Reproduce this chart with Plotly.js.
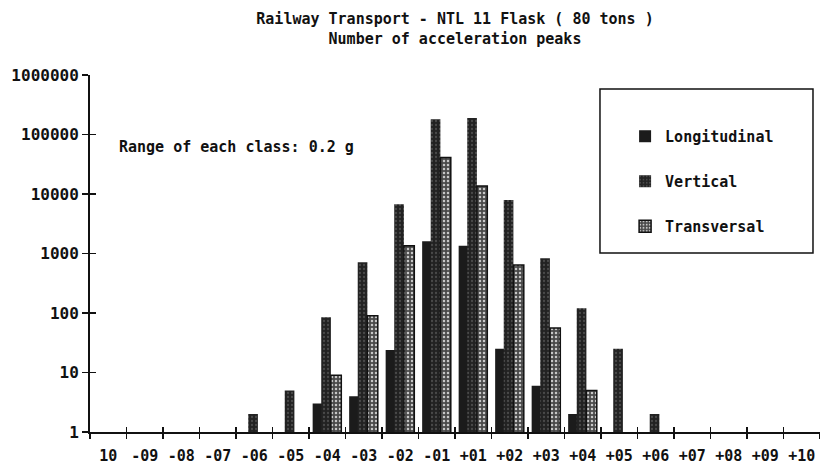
<!DOCTYPE html>
<html>
<head>
<meta charset="utf-8">
<script src="https://cdn.plot.ly/plotly-3.0.1.min.js"></script>
<style>html,body{margin:0;padding:0;background:#fff;}#chart{width:820px;height:465px;}</style>
</head>
<body>
<div id="chart"></div>
<script>
// Classes of acceleration (0.2 g each), as labelled on the x axis
const categories = ['10','-09','-08','-07','-06','-05','-04','-03','-02','-01','+01','+02','+03','+04','+05','+06','+07','+08','+09','+10'];
// Number of acceleration peaks per class (null = no bar)
const longitudinal = [null,null,null,null,null,null,3,4,24,1600,1350,25,6,2,null,null,null,null,null,null];
const vertical     = [null,null,null,null,2,5,85,710,6700,180000,190000,7900,830,120,25,2,null,null,null,null];
const transversal  = [null,null,null,null,null,null,9,90,1350,41000,13600,640,56,5,null,null,null,null,null,null];
const seriesNames = ['Longitudinal','Vertical','Transversal'];
const yTickVals = [1,10,100,1000,10000,100000,1000000];
const yTickText = ['1','10','100','1000','10000','100000','1000000'];

const FONT = 'DejaVu Sans Mono, Liberation Mono, monospace';
const INK = '#111';

const traces = [
  {type:'bar', name:seriesNames[0], x:categories, y:longitudinal, offset:-0.40, width:0.28,
   legendgroup:'a', marker:{color:'#1b1b1b', line:{width:0}}},
  {type:'bar', name:seriesNames[1], x:categories, y:vertical, offset:-0.165, width:0.265,
   legendgroup:'b', marker:{color:'#252525', line:{width:0},
   pattern:{shape:'.', fgcolor:'#4a4a4a', bgcolor:'#222', size:4, solidity:0.25}}},
  {type:'bar', name:seriesNames[2], x:categories, y:transversal, offset:0.10, width:0.285,
   legendgroup:'c', marker:{color:'#5a5a5a', line:{color:INK, width:1.5},
   pattern:{shape:'.', fgcolor:'#c8c8c8', bgcolor:'#4a4a4a', size:4, solidity:0.3}}},
  {type:'scatter', x:[], y:[], xaxis:'x2', yaxis:'y2', showlegend:false, hoverinfo:'skip'}
];

const layout = {
  width:820, height:465,
  margin:{l:90, r:0, t:75, b:33},
  paper_bgcolor:'#fff', plot_bgcolor:'#fff',
  barmode:'overlay',
  font:{family:FONT, color:INK, size:15},
  title:{text:'Railway Transport - NTL 11 Flask ( 80 tons )<br>Number of acceleration peaks',
         x:0.5, xref:'paper', xanchor:'center', y:0.948, yref:'container', yanchor:'top',
         font:{family:FONT, size:15, color:INK, weight:'bold'}},
  xaxis:{type:'category', categoryorder:'array', categoryarray:categories, range:[-0.5,19.5],
         tickson:'boundaries', ticks:'outside', ticklen:5, tickwidth:1.5, tickcolor:INK,
         tickangle:0, ticklabelstandoff:9, showline:true, linecolor:INK, linewidth:2,
         showgrid:false, zeroline:false,
         tickfont:{family:FONT, size:15, color:INK, weight:'bold'}},
  yaxis:{type:'log', range:[0,6], tickvals:yTickVals, ticktext:yTickText,
         ticks:'outside', ticklen:6, tickwidth:1.5, tickcolor:INK,
         showline:true, linecolor:INK, linewidth:2, showgrid:false, zeroline:false,
         tickfont:{family:FONT, size:16, color:INK, weight:'bold'}},
  xaxis2:{overlaying:'x', anchor:'y', side:'bottom', range:[0,20],
          tickvals:[1,2,3,4,5,6,7,8,9,10,11,12,13,14,15,16,17,18,19],
          ticks:'inside', ticklen:5, tickwidth:1.5, tickcolor:INK, showticklabels:false,
          showline:false, showgrid:false, zeroline:false},
  yaxis2:{overlaying:'y', anchor:'x', side:'left', type:'log', range:[0,6],
          tickvals:[10,100,1000,10000,100000,1000000],
          ticks:'inside', ticklen:6, tickwidth:1.5, tickcolor:INK, showticklabels:false,
          showline:false, showgrid:false, zeroline:false},
  showlegend:true,
  legend:{x:0.733, xanchor:'left', y:0.874, yanchor:'top', bgcolor:'rgba(0,0,0,0)',
          borderwidth:0, tracegroupgap:22.5, font:{family:FONT, size:15, color:INK, weight:'bold'}},
  shapes:[{type:'rect', xref:'paper', yref:'paper', x0:0.6986, x1:0.9904, y0:0.5014, y1:0.9608,
           line:{color:INK, width:1.5}, fillcolor:'rgba(0,0,0,0)'}],
  annotations:[{text:'Range of each class: 0.2 g', xref:'paper', yref:'paper', x:0.037, y:0.798,
                xanchor:'left', yanchor:'middle', showarrow:false,
                font:{family:FONT, size:15, color:INK, weight:'bold'}}]
};

Plotly.newPlot('chart', traces, layout, {displayModeBar:false, staticPlot:true});
</script>
</body>
</html>
